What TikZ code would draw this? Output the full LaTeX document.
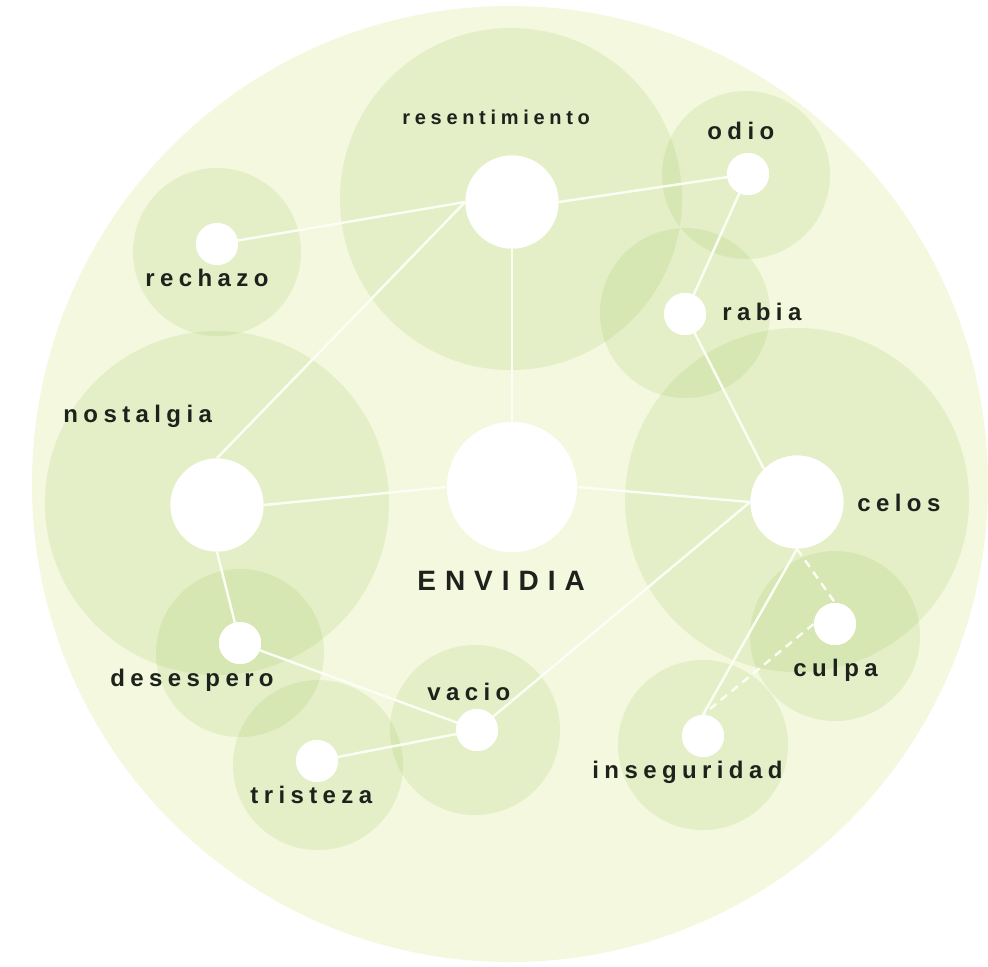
\documentclass[tikz,border=0pt]{standalone}
\usepackage{fontspec}
\setmainfont{Liberation Sans}
\newfontfamily\lblfont[LetterSpace=22.5]{Liberation Sans}
\newfontfamily\resfont[LetterSpace=23.5]{Liberation Sans}
\newfontfamily\envfont[LetterSpace=32]{Liberation Sans}
\definecolor{bgc}{RGB}{243,248,222}
\definecolor{haloc}{RGB}{143,188,69}
\definecolor{txtc}{RGB}{30,34,28}
\definecolor{linec}{RGB}{252,254,245}
\begin{document}
\begin{tikzpicture}[x=0.5pt,y=-0.5pt,
  halo/.style={fill=haloc, fill opacity=0.15},
  dot/.style={circle, fill=white, draw=none, inner sep=0pt, minimum size=#1},
  link/.style={draw=linec, line width=1.2pt},
  dlink/.style={draw=linec, line width=1.2pt, dash pattern=on 4pt off 3pt},
  lbl/.style={anchor=base west, inner sep=0pt, text=txtc, font=\lblfont\bfseries\fontsize{12}{14}\selectfont},
  reslbl/.style={anchor=base west, inner sep=0pt, text=txtc, font=\resfont\bfseries\fontsize{10}{12}\selectfont},
  envlbl/.style={anchor=base west, inner sep=0pt, text=txtc, font=\envfont\bfseries\fontsize{14}{16}\selectfont}]
\useasboundingbox (0,0) rectangle (988,966);
% background disc
\fill[bgc] (510,484) circle [radius=239pt];
% halos
\fill[halo] (511,199) circle [radius=85.5pt];
\fill[halo] (746,175) circle [radius=42pt];
\fill[halo] (685,313) circle [radius=42.5pt];
\fill[halo] (217,252) circle [radius=42pt];
\fill[halo] (217,503) circle [radius=86pt];
\fill[halo] (797,500) circle [radius=86pt];
\fill[halo] (835,636) circle [radius=42.5pt];
\fill[halo] (240,653) circle [radius=42pt];
\fill[halo] (475,730) circle [radius=42.5pt];
\fill[halo] (318,765) circle [radius=42.5pt];
\fill[halo] (703,745) circle [radius=42.5pt];
% nodes
\node[dot=46.5pt] (res) at (512,202) {};
\node[dot=46.5pt] (nos) at (217,505) {};
\node[dot=65pt]   (env) at (512,487) {};
\node[dot=46.5pt] (cel) at (797,502) {};
\node[dot=21pt] (odi) at (748,174) {};
\node[dot=21pt] (rab) at (685,314) {};
\node[dot=21pt] (rec) at (217,244) {};
\node[dot=21pt] (des) at (240,643) {};
\node[dot=21pt] (vac) at (477,730) {};
\node[dot=21pt] (tri) at (317,761) {};
\node[dot=21pt] (cul) at (835,624) {};
\node[dot=21pt] (ins) at (703,736) {};
% connectors
\draw[link] (res.west) -- (rec.center);
\draw[link] (res.east) -- (odi.center);
\draw[link] (res.west) -- (nos.north);
\draw[link] (res.south) -- (env.north);
\draw[link] (odi.center) -- (rab.center);
\draw[link] (rab.center) -- (cel.north west);
\draw[link] (nos.east) -- (env.west);
\draw[link] (env.east) -- (cel.west);
\draw[link] (nos.south) -- (des.center);
\draw[link] (des.center) -- (vac.center);
\draw[link] (tri.center) -- (vac.center);
\draw[link] (vac.center) -- (cel.west);
\draw[link] (cel.south) -- (ins.north);
\draw[dlink] (cel.south) -- (cul.north);
\draw[dlink] (cul.west) -- (ins.north);
% redraw dots on top of connectors
\foreach \n/\s in {res/46.5pt,nos/46.5pt,env/65pt,cel/46.5pt,odi/21pt,rab/21pt,rec/21pt,des/21pt,vac/21pt,tri/21pt,cul/21pt,ins/21pt}
  \fill[white] (\n.center) circle [radius=\s/2];
% labels
\node[reslbl] (lres) at (402,124) {resentimiento};
\node[lbl] (lodi) at (707,139) {odio};
\node[lbl] (lrab) at (722,320) {rabia};
\node[lbl] (lrec) at (145,286) {rechazo};
\node[lbl] (lnos) at (63,422) {nostalgia};
\node[lbl] (lcel) at (857,511) {celos};
\node[envlbl] (lenv) at (417,590) {ENVIDIA};
\node[lbl] (lcul) at (793,676) {culpa};
\node[lbl] (lins) at (592,778) {inseguridad};
\node[lbl] (ldes) at (110,686) {desespero};
\node[lbl] (lvac) at (427,700) {vacio};
\node[lbl] (ltri) at (250,803) {tristeza};
\end{tikzpicture}
\end{document}
